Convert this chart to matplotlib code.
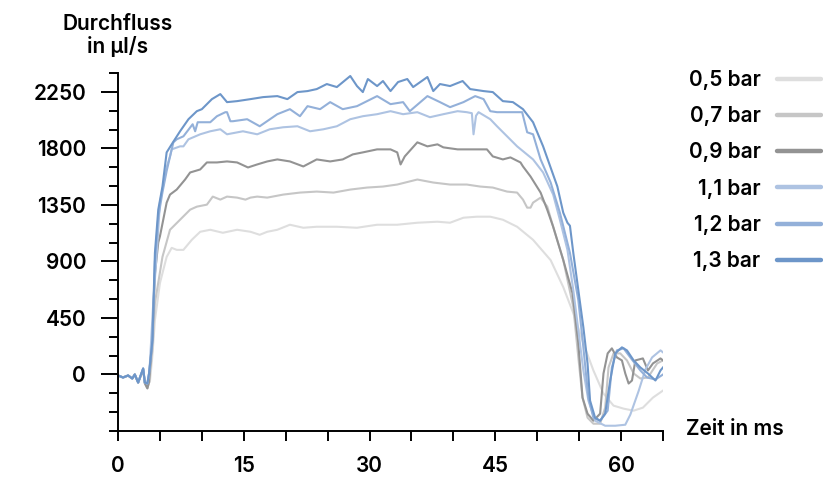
import matplotlib
matplotlib.use("Agg")
import matplotlib.pyplot as plt
from matplotlib.lines import Line2D
from matplotlib.ticker import MultipleLocator

plt.rcParams['font.family'] = ['Inter', 'DejaVu Sans']
plt.rcParams['font.weight'] = 'semibold'

# Zeit in ms / Durchfluss in µl/s
pre_t = [0, 0.6, 1.2, 1.7, 2.0, 2.4, 3.0, 3.2, 3.5, 3.7]
pre_blue = [-8, -24, -8, -32, 0, -64, 48, -64, -72, 8]
pre_gray = [-8, -24, -8, -32, 0, -64, 40, -70, -110, -60]

t_13 = pre_t + [4.1, 4.4, 4.8, 5.3, 5.8, 6.4, 7.4, 8.4, 9.4, 10.0, 11.2, 12.2, 13.0, 14.2, 15.8,
                17.3, 19.0, 20.2, 21.4, 22.6, 23.7, 24.9, 26.1, 27.7, 28.5, 29.2, 29.8, 30.9, 31.6,
                32.5, 33.4, 34.5, 35.2, 36.9, 37.6, 38.4, 39.6, 41.1, 42.0, 43.6, 44.7, 45.9, 47.1,
                48.3, 49.5, 50.7, 52.4, 53.1, 53.6, 53.9, 54.3, 54.9, 55.5, 56.0, 56.3, 56.9, 57.5,
                58.1, 58.7, 59.3, 60.1, 60.7, 61.5, 62.3, 63.2, 64.1, 64.7, 65.0]
v_13 = pre_blue + [272, 968, 1312, 1496, 1768, 1832, 1936, 2032, 2096, 2112, 2192, 2232, 2168, 2176, 2192,
                   2208, 2216, 2192, 2248, 2256, 2272, 2312, 2288, 2376, 2296, 2248, 2352, 2296, 2336,
                   2256, 2328, 2352, 2288, 2368, 2256, 2312, 2296, 2336, 2272, 2256, 2248, 2176, 2168,
                   2112, 2008, 1816, 1496, 1288, 1208, 1184, 968, 672, 376, 88, -208, -344, -368,
                   -312, -48, 168, 216, 192, 112, 56, 8, -48, 32, 56]

t_12 = pre_t + [4.1, 4.4, 4.8, 5.3, 5.8, 6.6, 7.0, 7.8, 8.9, 9.2, 9.5, 11.0, 11.8, 12.8, 13.0, 13.4,
                13.7, 15.4, 16.9, 19.0, 20.5, 21.7, 22.6, 24.1, 25.3, 26.8, 28.5, 30.9, 32.5, 34.0,
                34.8, 36.9, 38.4, 39.6, 41.2, 42.6, 43.6, 44.4, 45.2, 48.2, 48.8, 49.5, 50.4, 51.6,
                52.7, 53.9, 54.9, 55.5, 56.1, 56.7, 57.5, 58.4, 58.9, 59.5, 60.3, 61.1, 62.3, 63.1,
                64.1, 65.0]
v_12 = pre_blue + [250, 900, 1250, 1450, 1620, 1848, 1872, 1896, 1992, 1936, 2008, 2008, 2056, 2088, 2088,
                   2016, 2016, 2032, 1976, 2072, 2112, 2056, 2136, 2112, 2168, 2112, 2136, 2216, 2152,
                   2168, 2096, 2216, 2168, 2128, 2168, 2216, 2192, 2096, 2088, 2088, 1928, 1912, 1712,
                   1528, 1288, 968, 592, 216, -184, -344, -368, -288, 56, 192, 208, 136, 32, -24,
                   -40, 0]

t_11 = pre_t + [3.8, 4.2, 4.7, 5.0, 5.8, 6.2, 6.4, 7.4, 7.8, 8.4, 9.8, 11.0, 12.2, 13.0, 14.9, 16.6,
                18.1, 19.7, 21.4, 22.9, 24.5, 26.1, 27.7, 29.2, 30.9, 32.5, 34.0, 35.7, 37.2, 38.8,
                40.5, 41.6, 42.2, 42.4, 42.7, 43.0, 44.4, 45.2, 47.6, 49.5, 50.7, 51.9, 52.7, 53.6,
                54.3, 54.9, 55.5, 56.1, 56.9, 58.1, 59.3, 60.5, 61.1, 62.1, 62.9, 63.7, 64.7, 65.0]
v_11 = pre_blue + [88, 568, 1048, 1368, 1650, 1736, 1792, 1816, 1816, 1872, 1912, 1936, 1952, 1912, 1936,
                   1912, 1952, 1968, 1976, 1936, 1952, 1976, 2032, 2056, 2072, 2096, 2072, 2088, 2048,
                   2072, 2096, 2088, 2080, 1912, 2060, 2088, 2032, 1976, 1816, 1712, 1608, 1432, 1232,
                   992, 672, 352, 32, -208, -368, -408, -408, -400, -320, -130, 40, 136, 192, 176]

t_09 = pre_t + [4.1, 4.4, 4.8, 5.0, 5.8, 6.2, 7.0, 8.0, 8.6, 9.8, 10.6, 11.8, 13.0, 14.2, 15.5, 16.6,
                17.8, 19.0, 20.5, 22.1, 23.7, 25.3, 26.8, 28.0, 29.2, 30.9, 32.5, 33.3, 33.7, 34.2,
                35.7, 36.9, 38.1, 38.8, 40.5, 42.4, 44.0, 44.7, 45.9, 46.8, 48.0, 48.3, 49.2, 50.4,
                51.2, 51.9, 53.1, 54.2, 54.9, 55.4, 56.0, 56.7, 57.5, 57.9, 58.4, 58.9, 59.5, 60.1,
                60.5, 60.9, 61.3, 61.7, 62.6, 63.2, 63.8, 64.7, 65.0]
v_09 = pre_gray + [300, 800, 1050, 1100, 1368, 1432, 1472, 1552, 1608, 1632, 1688, 1688, 1696, 1688, 1648,
                   1672, 1696, 1712, 1696, 1656, 1712, 1696, 1712, 1752, 1768, 1792, 1792, 1768, 1672,
                   1736, 1848, 1816, 1832, 1808, 1792, 1792, 1792, 1736, 1712, 1728, 1688, 1656, 1576,
                   1448, 1310, 1176, 912, 648, 248, -184, -312, -368, -312, 8, 168, 208, 136, 112,
                   8, -72, -48, 112, 128, 32, 88, 128, 112]

t_07 = pre_t + [4.1, 4.4, 5.3, 6.2, 7.4, 8.6, 9.4, 10.6, 11.3, 12.2, 13.0, 14.2, 15.2, 15.8, 16.6, 17.8,
                19.7, 21.7, 23.7, 25.7, 27.7, 29.7, 31.6, 33.3, 35.7, 37.6, 39.6, 41.6, 43.2, 44.7,
                46.4, 47.6, 48.3, 48.8, 49.2, 49.5, 50.4, 51.2, 51.9, 53.1, 54.3, 54.9, 55.4, 56.0,
                56.7, 57.5, 58.1, 58.5, 59.1, 59.9, 60.7, 61.5, 62.3, 63.2, 64.3, 65.0]
v_07 = pre_gray + [200, 568, 936, 1152, 1232, 1312, 1336, 1352, 1416, 1392, 1416, 1408, 1392, 1408, 1416, 1408,
                   1432, 1448, 1456, 1448, 1472, 1488, 1496, 1512, 1552, 1528, 1512, 1512, 1496, 1488,
                   1456, 1448, 1392, 1328, 1328, 1368, 1408, 1336, 1176, 912, 536, 136, -184, -344,
                   -392, -392, -264, 56, 168, 168, 112, 8, -32, -24, 88, 112]

t_05 = pre_t + [3.8, 4.1, 4.4, 5.0, 5.8, 6.4, 7.0, 7.8, 8.8, 9.8, 11.0, 12.5, 14.2, 15.8, 16.9, 17.8,
                19.0, 20.5, 22.1, 23.7, 26.1, 28.5, 30.9, 33.3, 35.7, 38.1, 39.6, 41.2, 42.8, 44.4,
                45.9, 47.6, 49.5, 51.6, 53.1, 54.3, 55.5, 56.7, 57.9, 59.1, 60.3, 61.5, 62.6, 63.8,
                65.0]
v_05 = pre_gray + [-60, 150, 432, 728, 936, 1008, 992, 992, 1072, 1136, 1152, 1128, 1152, 1136, 1112, 1136,
                   1152, 1192, 1168, 1176, 1176, 1168, 1192, 1192, 1208, 1216, 1208, 1248, 1256, 1256,
                   1232, 1176, 1072, 910, 696, 488, 248, 32, -152, -248, -272, -288, -264, -184,
                   -128]

labels = ['0,5 bar', '0,7 bar', '0,9 bar', '1,1 bar', '1,2 bar', '1,3 bar']
colors = ['#dedede', '#c6c6c6', '#939393', '#aec3e2', '#93b0d9', '#6d96c9']
series = [(t_05, v_05), (t_07, v_07), (t_09, v_09), (t_11, v_11), (t_12, v_12), (t_13, v_13)]

fig = plt.figure(figsize=(8.23, 4.78), dpi=100)
ax = fig.add_axes([0.1434, 0.0983, 0.6622, 0.749])

for (t, v), c in zip(series, colors):
    ax.plot(t, v, color=c, lw=1.5, solid_joinstyle='round')

ax.set_xlim(0, 65)
ax.set_ylim(-450, 2400)
ax.spines['top'].set_visible(False)
ax.spines['right'].set_visible(False)
for s in ['left', 'bottom']:
    ax.spines[s].set_linewidth(1.4)

ax.xaxis.set_major_locator(MultipleLocator(15))
ax.xaxis.set_minor_locator(MultipleLocator(5))
ax.yaxis.set_minor_locator(MultipleLocator(150))
ax.set_yticks([0, 450, 900, 1350, 1800, 2250])
ax.tick_params(axis='x', which='both', length=7, width=1.4, pad=11, labelsize=15)
ax.tick_params(axis='y', which='major', length=12, width=1.4, pad=11, labelsize=15)
ax.tick_params(axis='y', which='minor', length=6.5, width=1.4)

fig.text(118 / 823, 1 - 30 / 478, 'Durchfluss', ha='center', va='baseline', fontsize=15)
fig.text(118 / 823, 1 - 53 / 478, 'in µl/s', ha='center', va='baseline', fontsize=15)
fig.text(686 / 823, 1 - 435 / 478, 'Zeit in ms', ha='left', va='baseline', fontsize=15)

handles = [Line2D([], [], color=c, lw=3.2, solid_capstyle='round') for c in colors]
fig.legend(handles, labels, loc='upper right', bbox_to_anchor=(821 / 823, 1 - 70 / 478),
           frameon=False, markerfirst=False, fontsize=15, handlelength=2.1,
           handletextpad=0.8, labelspacing=0.78, borderaxespad=0, borderpad=0)

fig.savefig('out.png', dpi=100)
